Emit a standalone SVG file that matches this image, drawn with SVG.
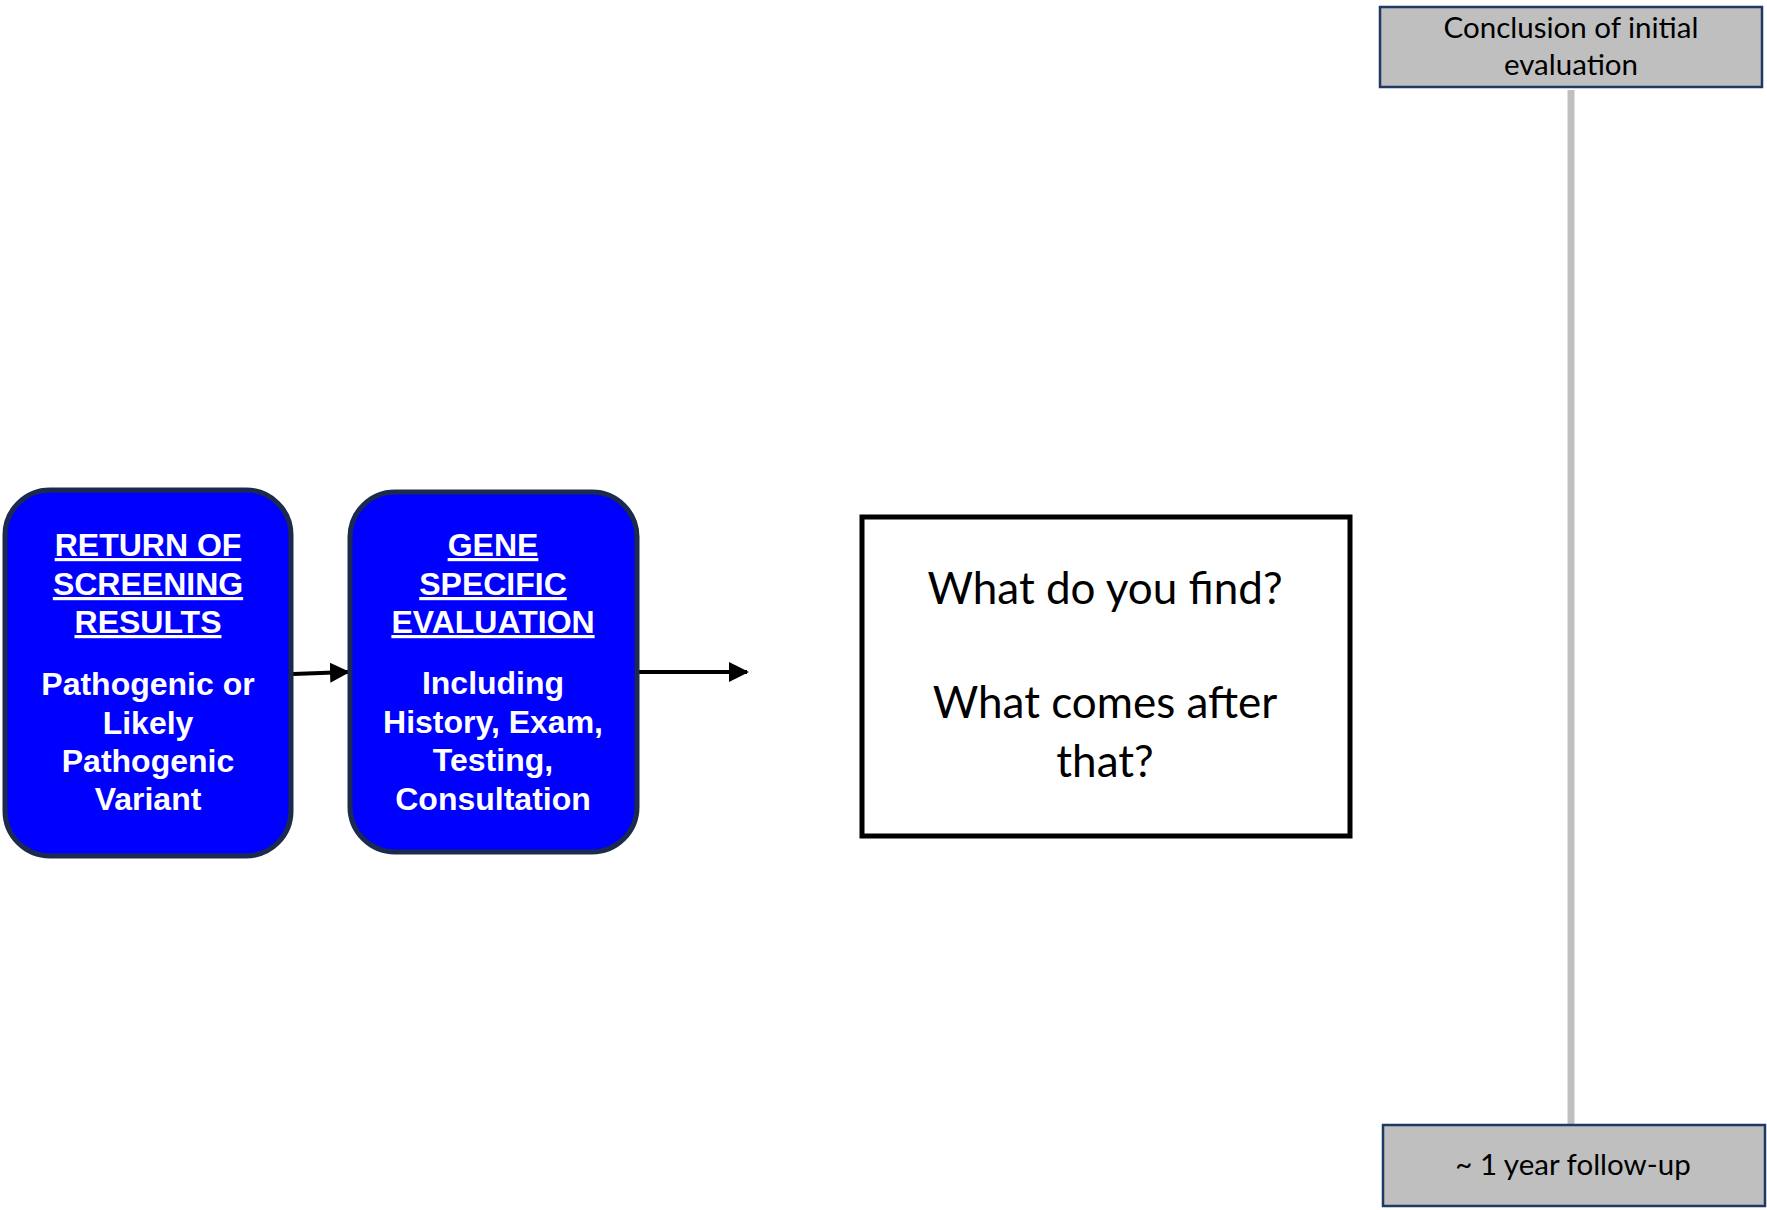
<svg xmlns="http://www.w3.org/2000/svg" width="1767" height="1210" viewBox="0 0 1767 1210">
  <style>
    .step { fill: #0000ff; stroke: #1c2a4d; stroke-width: 5; }
    .step text { font-family: "Liberation Sans", Arial, sans-serif; font-weight: bold; font-size: 32px; fill: #ffffff; text-anchor: middle; stroke: none; }
    .step .head { text-decoration: underline; }
    .question { fill: #ffffff; stroke: #000000; stroke-width: 5; }
    .question text { font-family: Lato, "Open Sans", sans-serif; font-size: 44px; fill: #000000; text-anchor: middle; stroke: none; }
    .milestone { fill: #bfbfbf; stroke: #1f3864; stroke-width: 2.5; }
    .milestone text { font-family: Lato, "Open Sans", sans-serif; font-size: 29.5px; fill: #000000; text-anchor: middle; stroke: none; }
    .link { stroke: #000000; stroke-width: 4; fill: none; marker-end: url(#arrow); }
    .timeline { stroke: #bfbfbf; stroke-width: 7; fill: none; }
  </style>
  <defs>
    <marker id="arrow" markerWidth="5" markerHeight="5" refX="4.5" refY="2.5" orient="auto" markerUnits="strokeWidth">
      <path d="M0,0 L5,2.5 L0,5 Z" fill="#000000"/>
    </marker>
  </defs>

  <rect width="1767" height="1210" fill="#ffffff"/>

  <!-- connectors -->
  <g id="connectors">
    <line class="timeline" x1="1571" y1="90" x2="1571" y2="1125"/>
    <line class="link" x1="293" y1="674" x2="348" y2="672"/>
    <line class="link" x1="638" y1="672" x2="747" y2="672"/>
  </g>

  <!-- step 1 -->
  <g id="return-of-results" class="step">
    <rect x="5" y="490" width="286" height="366" rx="45" ry="45"/>
    <text class="head" x="148" y="556">RETURN OF</text>
    <text class="head" x="148" y="595">SCREENING</text>
    <text class="head" x="148" y="633">RESULTS</text>
    <text x="148" y="695">Pathogenic or</text>
    <text x="148" y="734">Likely</text>
    <text x="148" y="772">Pathogenic</text>
    <text x="148" y="810">Variant</text>
  </g>

  <!-- step 2 -->
  <g id="gene-specific-evaluation" class="step">
    <rect x="350" y="492" width="287" height="360" rx="45" ry="45"/>
    <text class="head" x="493" y="556">GENE</text>
    <text class="head" x="493" y="595">SPECIFIC</text>
    <text class="head" x="493" y="633">EVALUATION</text>
    <text x="493" y="694">Including</text>
    <text x="493" y="733">History, Exam,</text>
    <text x="493" y="771">Testing,</text>
    <text x="493" y="810">Consultation</text>
  </g>

  <!-- open question -->
  <g id="what-do-you-find" class="question">
    <rect x="862" y="517" width="488" height="319"/>
    <text x="1105" y="604">What do you find?</text>
    <text x="1105" y="718">What comes after</text>
    <text x="1105" y="777">that?</text>
  </g>

  <!-- timeline ends -->
  <g id="conclusion" class="milestone">
    <rect x="1380" y="7" width="382" height="80"/>
    <text x="1571" y="38">Conclusion of initial</text>
    <text x="1571" y="75">evaluation</text>
  </g>

  <g id="follow-up" class="milestone">
    <rect x="1383" y="1125" width="382" height="81"/>
    <text x="1573" y="1175">~ 1 year follow-up</text>
  </g>
</svg>
